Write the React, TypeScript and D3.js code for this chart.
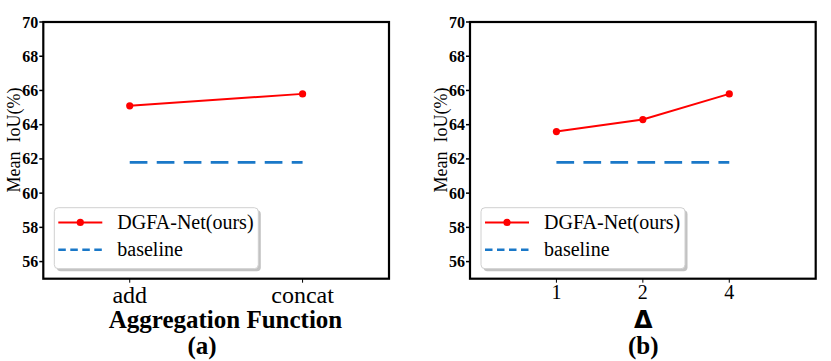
import React from "react";
import * as d3 from "d3";

// data
const aggCategories = ["add", "concat"];
const aggValues = [65.1, 65.8];
const aggBaseline = [61.8, 61.8];

const deltaCategories = ["1", "2", "4"];
const deltaValues = [63.6, 64.3, 65.8];
const deltaBaseline = [61.8, 61.8, 61.8];

const yTicks = [56, 58, 60, 62, 64, 66, 68, 70];
const yDomain = [55, 70];

const seriesNames = ["DGFA-Net(ours)", "baseline"];

const SERIF = "Liberation Serif, Tinos, Times New Roman, DejaVu Serif, serif";
const RED = "#ff0000";
const BLUE = "#1a78c8";

const top = 22;
const bottom = 278.7;
const plotW = 345.7;

function Panel(props) {
  const { left, cats, values, base, tickSize, tickY, xLabel, xLabelX, xLabelFont, xLabelSize, caption, captionX, yLabelX } = props;
  const n = cats.length;
  // categories sit at 1/4 .. 3/4 of the axis width
  const pad = (n - 1) / 2;
  const x = d3.scaleLinear([-pad, n - 1 + pad], [left, left + plotW]);
  const y = d3.scaleLinear(yDomain, [bottom, top]);
  const line = d3
    .line()
    .x((d, i) => x(i))
    .y((d) => y(d));

  // legend box
  const lx = left + 11;
  const ly = bottom - 10 - 61;
  const legW = 204;
  const legH = 61;

  return (
    <g>
      {/* y axis label */}
      <text
        transform={`translate(${yLabelX},140) rotate(-90)`}
        textAnchor="middle"
        dominantBaseline="central"
        style={{ fontFamily: SERIF, fontSize: 18, whiteSpace: "pre" }}
      >
        {"Mean  IoU(%)"}
      </text>

      {/* y ticks */}
      {yTicks.map((t) => (
        <g key={t}>
          <line x1={left - 4} x2={left} y1={y(t)} y2={y(t)} stroke="#000" strokeWidth={1.5} />
          <text
            x={left - 5}
            y={y(t)}
            textAnchor="end"
            dominantBaseline="central"
            style={{ fontFamily: SERIF, fontWeight: "bold", fontSize: 16 }}
          >
            {t}
          </text>
        </g>
      ))}

      {/* x ticks */}
      {cats.map((c, i) => (
        <g key={c}>
          <line x1={x(i)} x2={x(i)} y1={bottom} y2={bottom + 4} stroke="#000" strokeWidth={1} />
          <text x={x(i)} y={tickY} textAnchor="middle" style={{ fontFamily: SERIF, fontSize: tickSize }}>
            {c}
          </text>
        </g>
      ))}

      {/* baseline */}
      <path d={line(base)} fill="none" stroke={BLUE} strokeWidth={2.6} strokeDasharray="17.7 9.3" />

      {/* ours */}
      <path d={line(values)} fill="none" stroke={RED} strokeWidth={2} />
      {values.map((v, i) => (
        <circle key={i} cx={x(i)} cy={y(v)} r={3.6} fill={RED} />
      ))}

      {/* frame */}
      <rect x={left} y={top} width={plotW} height={bottom - top} fill="none" stroke="#000" strokeWidth={2.2} />

      {/* legend */}
      <rect x={lx + 2.5} y={ly + 2.5} width={legW} height={legH} rx={4} fill="#9a9a9a" opacity={0.6} />
      <rect x={lx} y={ly} width={legW} height={legH} rx={4} fill="#fff" stroke="#d0d0d0" strokeWidth={1} />
      <line x1={lx + 4} x2={lx + 48} y1={ly + 14.7} y2={ly + 14.7} stroke={RED} strokeWidth={2} />
      <circle cx={lx + 26} cy={ly + 14.7} r={3.6} fill={RED} />
      <text x={lx + 63} y={ly + 21.5} style={{ fontFamily: SERIF, fontSize: 20 }}>
        {seriesNames[0]}
      </text>
      <line
        x1={lx + 4}
        x2={lx + 48}
        y1={ly + 42}
        y2={ly + 42}
        stroke={BLUE}
        strokeWidth={2.6}
        strokeDasharray="7.5 4.5"
      />
      <text x={lx + 63} y={ly + 48.5} style={{ fontFamily: SERIF, fontSize: 20 }}>
        {seriesNames[1]}
      </text>

      {/* x label and caption */}
      <text
        x={xLabelX}
        y={328}
        textAnchor="middle"
        style={{ fontFamily: xLabelFont, fontWeight: "bold", fontSize: xLabelSize }}
      >
        {xLabel}
      </text>
      <text
        x={captionX}
        y={354}
        textAnchor="middle"
        style={{ fontFamily: SERIF, fontWeight: "bold", fontSize: 25 }}
      >
        {caption}
      </text>
    </g>
  );
}

export default function App() {
  return (
    <svg width={831} height={361} style={{ position: "absolute", left: 0, top: 0, background: "#fff" }}>
      <rect width={831} height={361} fill="#fff" />
      <Panel
        left={43.3}
        cats={aggCategories}
        values={aggValues}
        base={aggBaseline}
        tickSize={24}
        tickY={303}
        xLabel="Aggregation Function"
        xLabelX={225.5}
        xLabelFont={SERIF}
        xLabelSize={25}
        caption="(a)"
        captionX={202}
        yLabelX={14}
      />
      <Panel
        left={470}
        cats={deltaCategories}
        values={deltaValues}
        base={deltaBaseline}
        tickSize={20}
        tickY={299}
        xLabel="Δ"
        xLabelX={643.3}
        xLabelFont="DejaVu Sans, sans-serif"
        xLabelSize={24}
        caption="(b)"
        captionX={643.3}
        yLabelX={441}
      />
    </svg>
  );
}
